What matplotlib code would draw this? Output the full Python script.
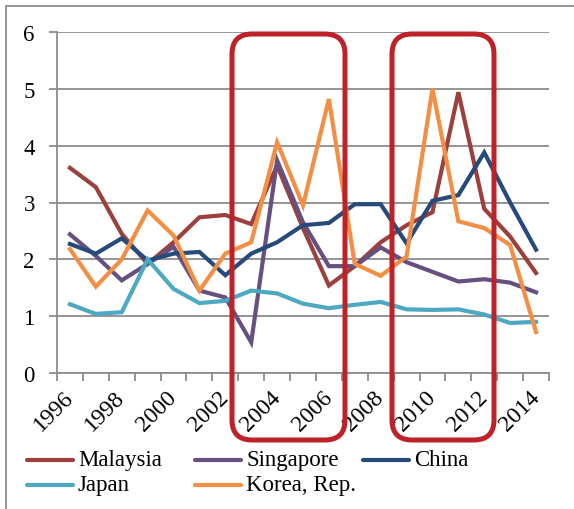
import matplotlib
matplotlib.use("Agg")
import matplotlib.pyplot as plt
from matplotlib.patches import FancyBboxPatch, Rectangle
from matplotlib.lines import Line2D
import numpy as np

plt.rcParams['font.family'] = 'serif'
plt.rcParams['font.serif'] = ['Liberation Serif', 'Times New Roman', 'DejaVu Serif']

years = list(range(1996, 2015))
malaysia = [3.61, 3.27, 2.45, 1.92, 2.30, 2.74, 2.78, 2.62, 3.65, 2.55, 1.54, 1.88, 2.30, 2.60, 2.83, 4.94, 2.89, 2.40, 1.76]
singapore = [2.44, 2.06, 1.63, 1.92, 2.22, 1.45, 1.33, 0.54, 3.74, 2.65, 1.88, 1.88, 2.21, 1.95, 1.78, 1.61, 1.65, 1.59, 1.42]
china = [2.27, 2.10, 2.37, 1.98, 2.10, 2.13, 1.72, 2.10, 2.30, 2.60, 2.64, 2.97, 2.97, 2.28, 3.03, 3.13, 3.88, 3.00, 2.17]
japan = [1.21, 1.04, 1.07, 2.00, 1.48, 1.23, 1.27, 1.45, 1.40, 1.22, 1.14, 1.20, 1.25, 1.12, 1.11, 1.12, 1.03, 0.88, 0.90]
korea = [2.18, 1.52, 2.00, 2.86, 2.42, 1.45, 2.10, 2.30, 4.06, 2.95, 4.82, 1.92, 1.71, 2.05, 5.00, 2.67, 2.55, 2.25, 0.72]

series_names = ["Malaysia", "Singapore", "China", "Japan", "Korea, Rep."]
series_vals = [malaysia, singapore, china, japan, korea]
colors = ["#9B403D", "#66507F", "#264B7A", "#4DA8C2", "#F28F45"]

yticks = [0, 1, 2, 3, 4, 5, 6]
xlabels = [str(y) for y in years[::2]]

W, H = 574, 510
fig = plt.figure(figsize=(W / 100, H / 100), dpi=100)
ax = fig.add_axes([57 / W, 1 - 374 / H, (549 - 57) / W, (374 - 33) / H])

x = np.arange(len(years))
draw_order = [3, 1, 0, 2, 4]
for i in draw_order:
    ax.plot(x, series_vals[i], color=colors[i], lw=3.0, solid_joinstyle='miter', zorder=3 + i * 0.1)

ax.set_xlim(-0.5, len(years) - 0.5)
ax.set_ylim(0, 6)
ax.set_yticks(yticks)
ax.set_yticklabels([str(t) for t in yticks], fontsize=16.5)
ax.yaxis.grid(True, color="#8C8C8C", lw=1.3)
ax.set_axisbelow(True)

ax.set_xticks(np.arange(len(years) + 1) - 0.5)
ax.set_xticklabels([])
ax.set_xticks(x[::2], minor=True)
ax.set_xticklabels(xlabels, minor=True, rotation=45, ha='right', va='center',
                   rotation_mode='anchor', fontsize=17)
ax.tick_params(axis='x', which='minor', length=0, pad=15)
ax.tick_params(axis='x', which='major', length=6, width=1.3, color="#8C8C8C", direction='out')
ax.tick_params(axis='y', length=6, width=1.3, color="#8C8C8C", pad=10)
for s in ['top', 'right']:
    ax.spines[s].set_visible(False)
for s in ['left', 'bottom']:
    ax.spines[s].set_color("#8C8C8C")
    ax.spines[s].set_linewidth(1.3)

# outer border (only top and left visible)
fig.patches.append(Rectangle((6 / W, -0.05), 1.2, 1 - 7 / H + 0.05, transform=fig.transFigure,
                             fill=False, edgecolor="#8C8C8C", lw=1.3, zorder=0))

# red highlight boxes
red = "#BE2127"
for (x0, x1) in [(232, 345), (392, 494)]:
    y0, y1 = 35, 441
    box = FancyBboxPatch((x0 / W, 1 - y1 / H), (x1 - x0) / W, (y1 - y0) / H,
                         boxstyle="round,pad=0,rounding_size=0.035",
                         transform=fig.transFigure, fill=False, edgecolor=red, lw=3.6,
                         zorder=10, mutation_aspect=W / H)
    fig.patches.append(box)

# legend (manual, row-wise)
positions = [(27, 461), (195, 461), (363, 461), (27, 486), (195, 486)]
for name, c, (lx, ly) in zip(series_names, colors, positions):
    fig.lines.append(Line2D([lx / W, (lx + 46) / W], [1 - ly / H, 1 - ly / H],
                            transform=fig.transFigure, color=c, lw=3.0,
                            solid_capstyle='round'))
    fig.text((lx + 51) / W, 1 - ly / H, name, fontsize=16.5, va='center', ha='left')

fig.savefig("out.png", dpi=100)
